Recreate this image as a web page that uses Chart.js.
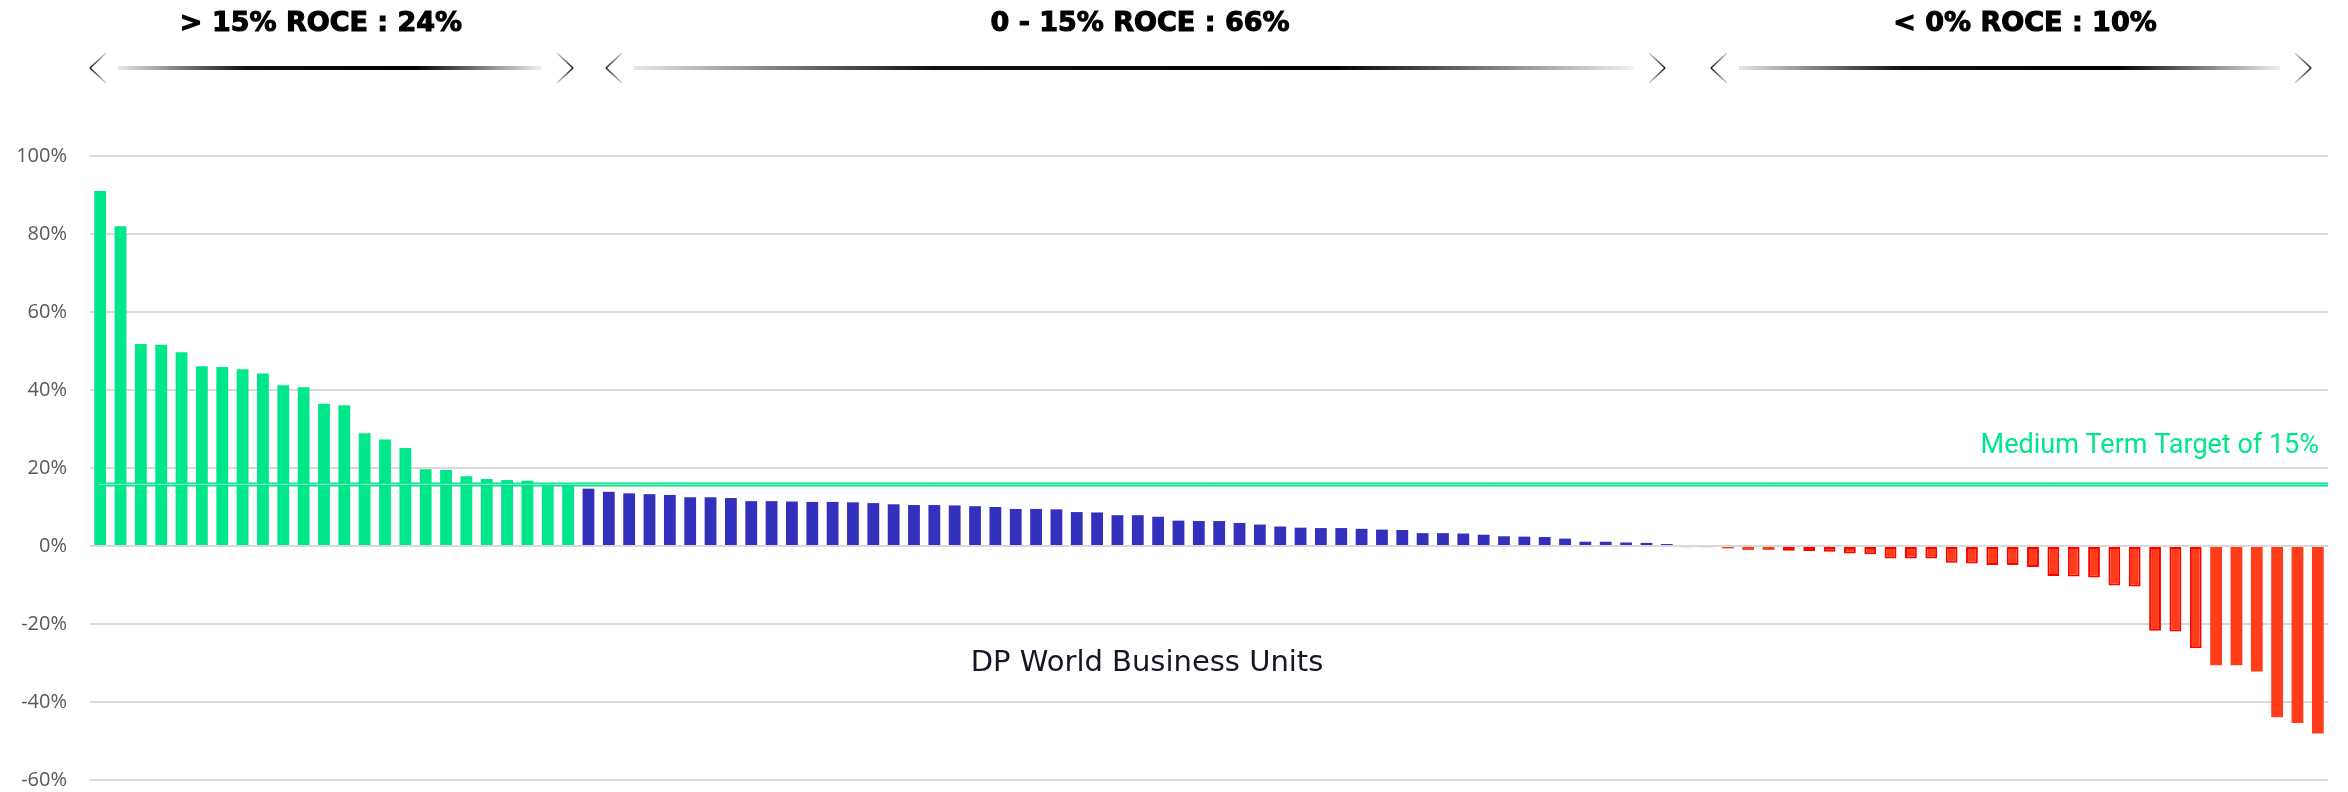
<!DOCTYPE html>
<html><head><meta charset="utf-8">
<script src="https://cdn.jsdelivr.net/npm/chart.js@4.4.1/dist/chart.umd.min.js"></script>
<style>html,body{margin:0;padding:0;background:#fff;overflow:hidden}canvas{display:block}</style>
</head><body>
<canvas id="c" width="2348" height="792"></canvas>
<script>
// ROCE per business unit (%), sorted high to low
const aboveTarget = [91.0, 82.0, 51.8, 51.6, 49.7, 46.1, 45.9, 45.3, 44.2, 41.2, 40.7, 36.5, 36.1, 28.9, 27.3, 25.1, 19.7, 19.5, 17.9, 17.2, 16.9, 16.7, 15.6, 15.5];
const belowTarget = [14.7, 13.9, 13.5, 13.3, 13.1, 12.5, 12.5, 12.3, 11.5, 11.5, 11.4, 11.3, 11.3, 11.2, 11.0, 10.7, 10.5, 10.5, 10.4, 10.2, 10.0, 9.5, 9.5, 9.4, 8.7, 8.6, 7.9, 7.9,
                     7.5, 6.5, 6.4, 6.4, 5.9, 5.5, 5.0, 4.7, 4.6, 4.6, 4.4, 4.2, 4.1, 3.3, 3.3, 3.2, 2.9, 2.5, 2.4, 2.3, 1.9, 1.1, 1.1, 0.9, 0.8, 0.5];
const negative = [-0.3, -0.3, -0.6, -1.0, -1.0, -1.2, -1.3, -1.5, -1.9, -2.1, -3.2, -3.2, -3.2, -4.3, -4.5, -4.9, -4.9, -5.4, -7.7, -7.8, -8.1, -10.1, -10.4, -21.7, -21.9, -26.2, -30.6, -30.6, -32.2, -43.9, -45.4, -48.1];
const targetROCE = 15.8;
const yMin = -60, yMax = 100, yStep = 20;
const targetLabel = 'Medium Term Target of 15%';
const axisCaption = 'DP World Business Units';
const groupHeaders = ['> 15% ROCE : 24%', '0 - 15% ROCE : 66%', '< 0% ROCE : 10%'];

const values = [...aboveTarget, ...belowTarget, ...negative];
const labels = values.map((_, i) => 'BU ' + (i + 1));

const GREEN = '#00E68A', BLUE = '#3330BE', RED = '#FF3D1A', RED_EDGE = '#FF0000';
const fills = [
  ...aboveTarget.map(() => GREEN),
  ...belowTarget.map(() => BLUE),
  ...negative.map(() => RED)
];
const outlined = v => v < -1.1 && v > -27;
const edgeWidths = values.map(v => outlined(v) ? 2 : 0);

// decorative header layout (pixels)
const deco = {
  headerY: 31,
  headerX: [321, 1140, 2025],
  arrowY: 68,
  arrows: [[90, 573], [606, 1665], [1711, 2311]]
};

const decoPlugin = {
  id: 'deco',
  afterDatasetsDraw(chart) {
    const ctx = chart.ctx, y = chart.scales.y, x = chart.scales.x, ca = chart.chartArea;
    const ty = y.getPixelForValue(targetROCE);
    const x0 = x.getPixelForValue(0) - 1;
    ctx.save();
    ctx.strokeStyle = GREEN;
    ctx.lineWidth = 4;
    ctx.beginPath(); ctx.moveTo(x0, ty); ctx.lineTo(ca.right, ty); ctx.stroke();
    ctx.strokeStyle = '#9ef5d0';
    ctx.lineWidth = 1;
    ctx.beginPath(); ctx.moveTo(x0, ty); ctx.lineTo(ca.right, ty); ctx.stroke();
    ctx.restore();
  },
  afterDraw(chart) {
    const ctx = chart.ctx;
    ctx.save();
    // headers
    ctx.fillStyle = '#000';
    ctx.strokeStyle = '#000';
    ctx.lineWidth = 1.1;
    ctx.font = 'bold 27px "DejaVu Sans"';
    ctx.textAlign = 'center';
    ctx.textBaseline = 'alphabetic';
    groupHeaders.forEach((t, i) => {
      ctx.fillText(t, deco.headerX[i], deco.headerY);
      ctx.strokeText(t, deco.headerX[i], deco.headerY);
    });
    // arrows
    const ay = deco.arrowY;
    deco.arrows.forEach(([l, r]) => {
      const lx0 = l + 28, lx1 = r - 31;
      const g = ctx.createLinearGradient(lx0, 0, lx1, 0);
      g.addColorStop(0, '#e6e6e6');
      g.addColorStop(0.3, '#111');
      g.addColorStop(0.7, '#000');
      g.addColorStop(1, '#f0f0f0');
      ctx.strokeStyle = g;
      ctx.lineWidth = 4;
      ctx.beginPath(); ctx.moveTo(lx0, ay); ctx.lineTo(lx1, ay); ctx.stroke();
      const chevron = (tip, dir) => {
        [-15, 15].forEach(dy => {
          const ex = tip + dir * 16, ey = ay + dy;
          const cg = ctx.createLinearGradient(tip, ay, ex, ey);
          cg.addColorStop(0, '#1a1a1a');
          cg.addColorStop(1, '#d8d8d8');
          ctx.strokeStyle = cg;
          ctx.lineWidth = 1.6;
          ctx.beginPath(); ctx.moveTo(tip, ay); ctx.lineTo(ex, ey); ctx.stroke();
        });
      };
      chevron(l, 1);
      chevron(r, -1);
    });
    // target label
    ctx.fillStyle = GREEN;
    ctx.font = '27px Roboto';
    ctx.textAlign = 'right';
    ctx.fillText(targetLabel, 2319, 453);
    // axis caption
    ctx.fillStyle = '#14142a';
    ctx.font = '29px "DejaVu Sans"';
    ctx.textAlign = 'center';
    ctx.fillText(axisCaption, 1147, 671);
    ctx.restore();
  }
};

new Chart(document.getElementById('c'), {
  type: 'bar',
  data: {
    labels,
    datasets: [{
      data: values,
      backgroundColor: fills,
      borderColor: RED_EDGE,
      borderWidth: edgeWidths,
      borderSkipped: false,
      barPercentage: 0.58,
      categoryPercentage: 1
    }]
  },
  options: {
    responsive: false,
    animation: false,
    devicePixelRatio: 1,
    layout: { padding: { top: 156, bottom: 12, left: 0, right: 20 } },
    plugins: { legend: { display: false }, tooltip: { enabled: false }, title: { display: false } },
    scales: {
      x: { display: false, offset: true },
      y: {
        min: yMin, max: yMax,
        afterFit(axis) { axis.width = 90; axis.paddingTop = 0; axis.paddingBottom = 0; },
        ticks: {
          stepSize: yStep,
          padding: 23,
          color: '#595959',
          font: { family: '"Open Sans"', size: 20 },
          callback: v => v + '%'
        },
        grid: { color: '#D9D9D9', lineWidth: 2, drawTicks: false },
        border: { display: false }
      }
    }
  },
  plugins: [decoPlugin]
});
</script>
</body></html>
